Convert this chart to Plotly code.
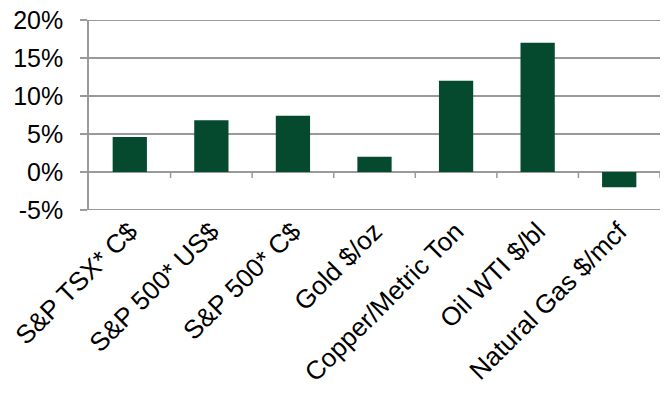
import plotly.graph_objects as go

# Returns by asset
categories = [
    "S&P TSX* C$",
    "S&P 500* US$",
    "S&P 500* C$",
    "Gold $/oz",
    "Copper/Metric Ton",
    "Oil WTI $/bl",
    "Natural Gas $/mcf",
]
returns_pct = [4.6, 6.8, 7.4, 2.0, 12.0, 17.0, -2.0]

y_ticks = [-5, 0, 5, 10, 15, 20]
y_tick_labels = ["-5%", "0%", "5%", "10%", "15%", "20%"]

BAR_COLOR = "#054a2f"
GRID_COLOR = "#9a9a9a"
FONT = "Liberation Sans, Arial, sans-serif"

fig = go.Figure()

fig.add_trace(go.Bar(
    x=categories,
    y=returns_pct,
    marker=dict(color=BAR_COLOR, line=dict(width=0)),
    showlegend=False,
    cliponaxis=False,
))

# Horizontal gridlines at each y tick, behind the bars
for v in y_ticks:
    fig.add_shape(
        type="line",
        xref="paper", yref="y",
        x0=0, x1=1, y0=v, y1=v,
        line=dict(color=GRID_COLOR, width=2),
        layer="between",
    )

# Short divider ticks hanging below the zero line, between categories
for i in range(len(categories)):
    fig.add_shape(
        type="line",
        xref="x", yref="y",
        x0=i + 0.5, x1=i + 0.5,
        ysizemode="pixel", yanchor=0,
        y0=0, y1=-6,
        line=dict(color=GRID_COLOR, width=1.5),
        layer="between",
    )

fig.update_layout(
    template="none",
    width=670,
    height=396,
    margin=dict(l=89, r=10, t=20, b=186),
    paper_bgcolor="white",
    plot_bgcolor="rgba(0,0,0,0)",
    bargap=0.58,
    font=dict(family=FONT, size=24, color="black"),
    xaxis=dict(
        type="category",
        range=[-0.5, 6.5],
        tickangle=-45,
        ticks="",
        showgrid=False,
        zeroline=False,
        showline=False,
        tickfont=dict(family=FONT, size=26, color="black"),
    ),
    yaxis=dict(
        range=[-5, 20],
        tickmode="array",
        tickvals=y_ticks,
        ticktext=y_tick_labels,
        ticks="outside",
        ticklen=7,
        tickwidth=1.5,
        tickcolor=GRID_COLOR,
        ticklabelstandoff=12,
        showgrid=False,
        zeroline=False,
        showline=True,
        linecolor=GRID_COLOR,
        linewidth=1.5,
        tickfont=dict(family=FONT, size=25, color="black"),
    ),
)

fig.write_html("out.html")
